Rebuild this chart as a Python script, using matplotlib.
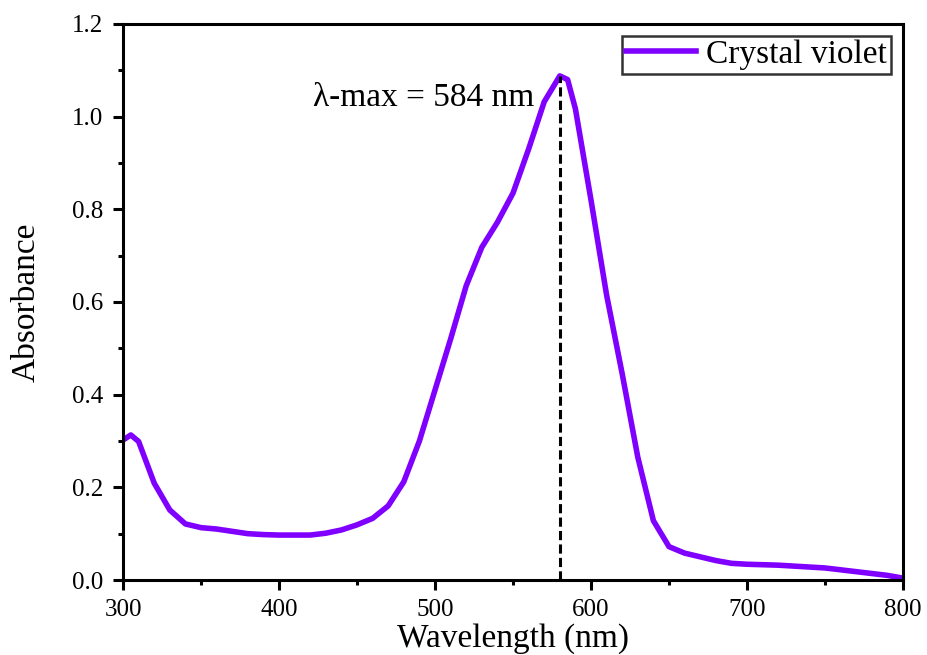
import matplotlib.pyplot as plt
import numpy as np
from matplotlib.ticker import MultipleLocator

plt.rcParams['font.family'] = ['Liberation Serif', 'DejaVu Serif']

wavelength = [300, 305, 310, 320, 330, 340, 350, 360, 370, 380, 390, 400, 410, 420,
              430, 440, 450, 460, 470, 480, 490, 500, 510, 520, 530, 540, 550, 560,
              570, 580, 585, 590, 600, 610, 620, 630, 640, 650, 660, 670, 680, 690,
              700, 710, 720, 730, 740, 750, 760, 770, 780, 790, 800]
absorbance = [0.302, 0.313, 0.299, 0.209, 0.151, 0.121, 0.113, 0.110, 0.105, 0.100,
              0.098, 0.097, 0.097, 0.097, 0.101, 0.108, 0.119, 0.133, 0.160, 0.212,
              0.300, 0.410, 0.520, 0.635, 0.718, 0.772, 0.835, 0.930, 1.032, 1.088,
              1.080, 1.017, 0.820, 0.615, 0.445, 0.265, 0.128, 0.072, 0.058, 0.050,
              0.042, 0.036, 0.034, 0.033, 0.032, 0.030, 0.028, 0.026, 0.022, 0.018,
              0.014, 0.010, 0.004]
series_name = 'Crystal violet'
peak_label = 'λ-max = 584 nm'

wl = np.array(wavelength)
ab = np.array(absorbance)
ipk = np.argmax(ab)

fig = plt.figure(figsize=(9.27, 6.55), dpi=100)
ax = fig.add_axes([0.1327, 0.1145, 0.9741 - 0.1327, 0.9634 - 0.1145])

ax.plot(wl, ab, color='#7f00ff', lw=4, label=series_name)
ax.plot([wl[ipk], wl[ipk]], [0, ab[ipk]], color='black', lw=2.2, ls=(0, (3, 1.4)))
ax.text(422, 1.04, peak_label, fontsize=24, va='center', ha='left')

ax.set_xlim(300, 800)
ax.set_ylim(0, 1.2)
ax.xaxis.set_major_locator(MultipleLocator(100))
ax.xaxis.set_minor_locator(MultipleLocator(50))
ax.yaxis.set_major_locator(MultipleLocator(0.2))
ax.yaxis.set_minor_locator(MultipleLocator(0.1))
ax.yaxis.set_major_formatter(plt.FuncFormatter(lambda v, p: f'{v:.1f}'))

for s in ax.spines.values():
    s.set_linewidth(2.2)
ax.tick_params(which='major', direction='out', length=7, width=2.2, labelsize=18, pad=7)
ax.tick_params(which='minor', direction='out', length=3.6, width=2.2)

# reference crops the x label at the bottom edge; keep it just inside here
ax.set_xlabel('Wavelength (nm)', fontsize=24, labelpad=1)
ax.set_ylabel('Absorbance', fontsize=24, labelpad=22)

leg = ax.legend(loc='upper right', fontsize=24, frameon=True, fancybox=False,
                handlelength=2.1, handletextpad=0.3, borderpad=0.12,
                borderaxespad=0.35)
leg.get_frame().set_edgecolor('black')
leg.get_frame().set_linewidth(1.8)

plt.savefig('out.png', dpi=100)
